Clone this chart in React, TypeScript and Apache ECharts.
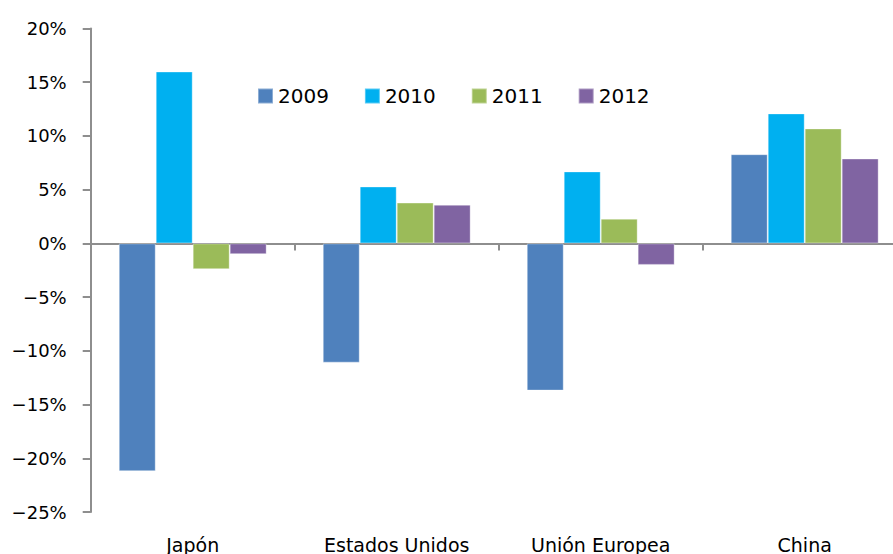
import React, { useEffect, useRef } from "react";
import * as echarts from "echarts";

const categories = ["Japón", "Estados Unidos", "Unión Europea", "China"];
const years = ["2009", "2010", "2011", "2012"];
const values2009 = [-21.2, -11.1, -13.7, 8.3];
const values2010 = [16.0, 5.3, 6.7, 12.1];
const values2011 = [-2.4, 3.8, 2.3, 10.7];
const values2012 = [-1.0, 3.6, -2.0, 7.9];
const colors = ["#4F81BD", "#00B0F0", "#9BBB59", "#8064A2"];

const FONT = "DejaVu Sans";

export default function App() {
  const ref = useRef<HTMLDivElement>(null);
  useEffect(() => {
    if (!ref.current) return;
    const chart = echarts.init(ref.current, null, { renderer: "svg" });
    const seriesValues = [values2009, values2010, values2011, values2012];
    chart.setOption({
      animation: false,
      textStyle: { fontFamily: FONT },
      grid: { left: 90.7, top: 28.5, right: 3.3, bottom: 41.3, containLabel: false },
      legend: {
        data: years,
        left: 257,
        top: 86,
        padding: 0,
        icon: "rect",
        itemWidth: 15,
        itemHeight: 15,
        itemGap: 35,
        textStyle: { fontSize: 20, color: "#000", fontFamily: FONT },
      },
      xAxis: [
        {
          type: "category",
          data: categories,
          position: "bottom",
          axisLine: { show: true, onZero: true, lineStyle: { color: "#8e8e8e", width: 2 } },
          axisTick: { show: true, length: 7, lineStyle: { color: "#8e8e8e", width: 2 } },
          axisLabel: { show: false },
          splitLine: { show: false },
        },
        {
          type: "category",
          data: categories,
          position: "bottom",
          axisLine: { show: false, onZero: false },
          axisTick: { show: false },
          axisLabel: { show: true, fontSize: 19, color: "#000", margin: 23, fontFamily: FONT },
          splitLine: { show: false },
        },
      ],
      yAxis: {
        type: "value",
        min: -25,
        max: 20,
        interval: 5,
        axisLine: { show: true, lineStyle: { color: "#8e8e8e", width: 2 } },
        axisTick: { show: true, length: 8, lineStyle: { color: "#8e8e8e", width: 2 } },
        axisLabel: {
          fontSize: 18,
          color: "#000",
          margin: 24,
          fontFamily: FONT,
          formatter: (v: number) => (v < 0 ? "\u2212" + Math.abs(v) : String(v)) + "%",
        },
        splitLine: { show: false },
      },
      series: years.map((y, i) => ({
        name: y,
        type: "bar",
        xAxisIndex: 0,
        data: seriesValues[i],
        barGap: "0%",
        barCategoryGap: "27.5%",
        itemStyle: { color: colors[i], borderColor: "rgba(255,255,255,0.35)", borderWidth: 1 },
      })),
    });
    return () => chart.dispose();
  }, []);
  return (
    <div
      style={{
        position: "fixed",
        left: 0,
        top: 0,
        width: 893,
        height: 554,
        overflow: "hidden",
        background: "#fff",
      }}
    >
      <div ref={ref} style={{ width: 910, height: 554 }} />
    </div>
  );
}
